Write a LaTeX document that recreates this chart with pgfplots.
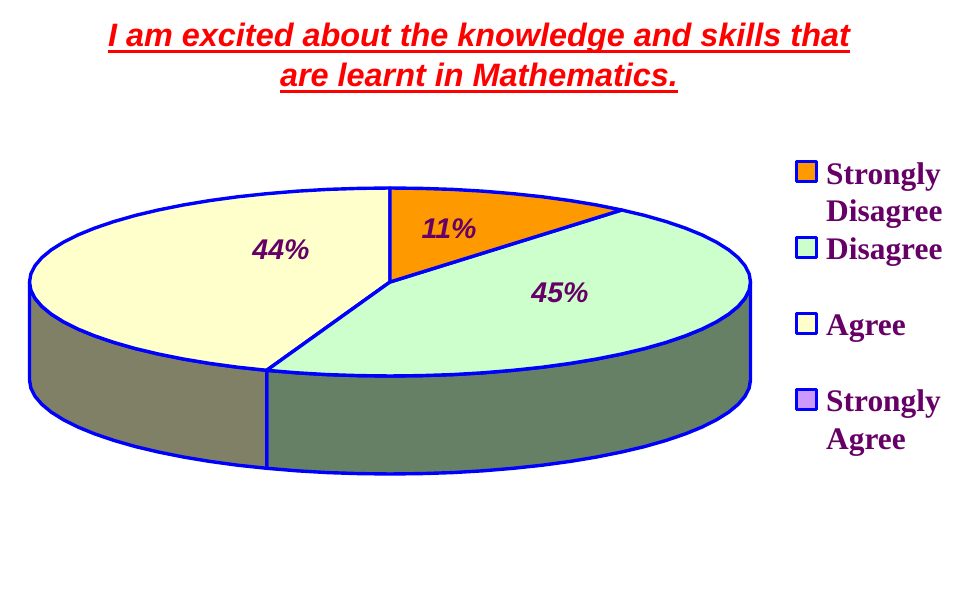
\documentclass[border=0pt]{standalone}
\usepackage{fontspec}
\setmainfont{Liberation Serif}
\newfontfamily\arialf{Liberation Sans}
\usepackage{pgfplots}
\pgfplotsset{compat=1.18}
\definecolor{piered}{HTML}{FF0000}
\definecolor{pieorange}{HTML}{FF9900}
\definecolor{piegreen}{HTML}{CCFFCC}
\definecolor{pieyellow}{HTML}{FFFFCC}
\definecolor{piepurple}{HTML}{CC99FF}
\definecolor{wallgreen}{HTML}{668066}
\definecolor{wallyellow}{HTML}{808066}
\definecolor{labelpurple}{HTML}{660066}
\newcommand\ul[1]{\setbox0\hbox{#1}\rlap{\rule[-6pt]{\wd0}{3pt}}\box0}
\tikzset{
  leg/.style={anchor=base west, inner sep=0pt, font=\fontsize{31.4}{32}\selectfont\bfseries, text=labelpurple},
  pct/.style={anchor=center, inner sep=0pt, font=\arialf\fontsize{28.5}{28}\selectfont\bfseries\itshape, text=labelpurple},
  ttl/.style={anchor=base, inner sep=0pt, font=\arialf\fontsize{32.4}{32}\selectfont\bfseries\itshape, text=piered},
}
\begin{document}
\begin{tikzpicture}
\useasboundingbox (0,0) rectangle (977pt,600pt);
\begin{axis}[
  at={(0,0)}, anchor=south west,
  width=977pt, height=600pt, scale only axis,
  xmin=-390, xmax=587, ymin=-318, ymax=282,
  hide axis, clip=false,
  every axis plot/.append style={no markers, draw=blue, line width=3.4pt, line join=round},
]
% side walls
\addplot[fill=wallgreen] coordinates {
(360.5,0)(359.1,-8.2)(355,-16.3)(348.2,-24.3)(338.8,-32.1)(326.7,-39.7)(312.2,-47)(295.3,-53.9)(276.2,-60.4)(254.9,-66.5)(231.7,-72)(206.8,-77)(180.3,-81.4)(152.4,-85.2)(123.3,-88.3)(93.3,-90.8)(62.6,-92.6)(31.4,-93.6)(0,-94)(-31.4,-93.6)(-62.6,-92.6)(-93.3,-90.8)(-123.3,-88.3)
(-123.3,-186.3)(-93.3,-188.8)(-62.6,-190.6)(-31.4,-191.6)(0,-192)(31.4,-191.6)(62.6,-190.6)(93.3,-188.8)(123.3,-186.3)(152.4,-183.2)(180.3,-179.4)(206.8,-175)(231.7,-170)(254.9,-164.5)(276.2,-158.4)(295.3,-151.9)(312.2,-145)(326.7,-137.7)(338.8,-130.1)(348.2,-122.3)(355,-114.3)(359.1,-106.2)(360.5,-98)
} --cycle;
\addplot[fill=wallyellow] coordinates {
(-123.3,-88.3)(-152.4,-85.2)(-180.3,-81.4)(-206.8,-77)(-231.7,-72)(-254.9,-66.5)(-276.2,-60.4)(-295.3,-53.9)(-312.2,-47)(-326.7,-39.7)(-338.8,-32.1)(-348.2,-24.3)(-355,-16.3)(-359.1,-8.2)(-360.5,0)
(-360.5,-98)(-359.1,-106.2)(-355,-114.3)(-348.2,-122.3)(-338.8,-130.1)(-326.7,-137.7)(-312.2,-145)(-295.3,-151.9)(-276.2,-158.4)(-254.9,-164.5)(-231.7,-170)(-206.8,-175)(-180.3,-179.4)(-152.4,-183.2)(-123.3,-186.3)
} --cycle;
% top: Agree 44
\addplot[fill=pieyellow] coordinates {
(0,0)(-123.3,-88.3)(-152.4,-85.2)(-180.3,-81.4)(-206.8,-77)(-231.7,-72)(-254.9,-66.5)(-276.2,-60.4)(-295.3,-53.9)(-312.2,-47)(-326.7,-39.7)(-338.8,-32.1)(-348.2,-24.3)(-355,-16.3)(-359.1,-8.2)(-360.5,0)
(-359.1,8.2)(-355,16.3)(-348.2,24.3)(-338.8,32.1)(-326.7,39.7)(-312.2,47)(-295.3,53.9)(-276.2,60.4)(-254.9,66.5)(-231.7,72)(-206.8,77)(-180.3,81.4)(-152.4,85.2)(-123.3,88.3)(-93.3,90.8)(-62.6,92.6)(-31.4,93.6)(0,94)
} --cycle;
% top: Disagree 45
\addplot[fill=piegreen] coordinates {
(0,0)(231.7,72)(254.9,66.5)(276.2,60.4)(295.3,53.9)(312.2,47)(326.7,39.7)(338.8,32.1)(348.2,24.3)(355,16.3)(359.1,8.2)(360.5,0)
(359.1,-8.2)(355,-16.3)(348.2,-24.3)(338.8,-32.1)(326.7,-39.7)(312.2,-47)(295.3,-53.9)(276.2,-60.4)(254.9,-66.5)(231.7,-72)(206.8,-77)(180.3,-81.4)(152.4,-85.2)(123.3,-88.3)(93.3,-90.8)(62.6,-92.6)(31.4,-93.6)(0,-94)(-31.4,-93.6)(-62.6,-92.6)(-93.3,-90.8)(-123.3,-88.3)
} --cycle;
% top: Strongly Disagree 11
\addplot[fill=pieorange] coordinates {
(0,0)(0,94)(31.4,93.6)(62.6,92.6)(93.3,90.8)(123.3,88.3)(152.4,85.2)(180.3,81.4)(206.8,77)(231.7,72)
} --cycle;
% legend keys
\addplot[fill=pieorange] coordinates {(406.5,120.5)(426.5,120.5)(426.5,100.5)(406.5,100.5)} --cycle;
\addplot[fill=piegreen] coordinates {(406.5,44.5)(426.5,44.5)(426.5,24.5)(406.5,24.5)} --cycle;
\addplot[fill=pieyellow] coordinates {(406.5,-31.5)(426.5,-31.5)(426.5,-51.5)(406.5,-51.5)} --cycle;
\addplot[fill=piepurple] coordinates {(406.5,-107.5)(426.5,-107.5)(426.5,-127.5)(406.5,-127.5)} --cycle;
% legend text
\node[leg] at (axis cs:436,97.5) {Strongly};
\node[leg] at (axis cs:436,60.5) {Disagree};
\node[leg] at (axis cs:436,22.5) {Disagree};
\node[leg] at (axis cs:436,-53.5) {Agree};
\node[leg] at (axis cs:436,-129.5) {Strongly};
\node[leg] at (axis cs:436,-167.5) {Agree};
% percentages
\node[pct] at (axis cs:-109,32) {44\%};
\node[pct] at (axis cs:59,53) {11\%};
\node[pct] at (axis cs:170,-11) {45\%};
% title
\node[ttl] at (axis cs:89,235) {\ul{I am excited about the knowledge and skills that}};
\node[ttl] at (axis cs:89,195) {\ul{are learnt in Mathematics.}};
\end{axis}
\end{tikzpicture}
\end{document}
